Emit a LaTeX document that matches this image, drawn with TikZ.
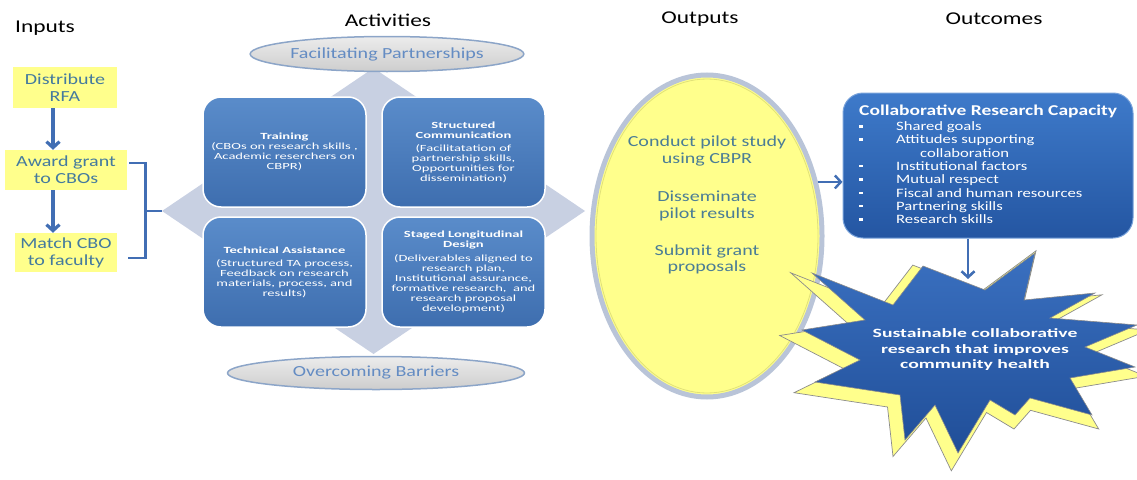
\documentclass[tikz,border=0pt]{standalone}
\usepackage{fontspec}
\setmainfont{Carlito}
\newfontfamily\fa{Carlito}[FakeStretch=1.3]
\newfontfamily\fb{Carlito}[FakeStretch=1.55]
\usetikzlibrary{shapes.geometric,arrows.meta}
\definecolor{yelfill}{RGB}{255,255,140}
\definecolor{inptext}{RGB}{68,122,158}
\definecolor{outtext}{RGB}{75,125,150}
\definecolor{arrowblue}{RGB}{65,110,180}
\definecolor{diafill}{RGB}{200,208,226}
\definecolor{boxtop}{RGB}{90,140,202}
\definecolor{boxbot}{RGB}{62,110,175}
\definecolor{eltop}{RGB}{236,236,236}
\definecolor{elbot}{RGB}{205,205,205}
\definecolor{elborder}{RGB}{140,165,200}
\definecolor{eltext}{RGB}{100,140,195}
\definecolor{outring}{RGB}{185,196,216}
\definecolor{outinner}{RGB}{225,225,120}
\definecolor{captop}{RGB}{62,122,202}
\definecolor{capbot}{RGB}{36,86,162}
\definecolor{startop}{RGB}{58,112,192}
\definecolor{starbot}{RGB}{32,78,152}
\definecolor{staredge}{RGB}{140,140,140}
\begin{document}
\begin{tikzpicture}[x=1pt,y=-1pt,
  title/.style={font=\fa\fontsize{18}{21}\selectfont, text=black, inner sep=0},
  inbox/.style={fill=yelfill, draw=none, font=\fa\fontsize{15.4}{17}\selectfont, text=inptext, align=center, inner sep=0},
  arr/.style={draw=arrowblue, line width=3.2, -{Straight Barb[length=6pt,width=13pt]}},
  brk/.style={draw=arrowblue, line width=2.6},
  abox/.style={rounded corners=18, draw=white, line width=1.5, top color=boxtop, bottom color=boxbot,
    minimum width=163, minimum height=110, text=white, font=\fb\fontsize{9.4}{10}\selectfont, align=center, inner sep=0},
  gel/.style={ellipse, draw=elborder, line width=1.5, top color=eltop, bottom color=elbot, text=eltext,
    font=\fa\fontsize{15.4}{17}\selectfont, inner sep=0},
  outtxt/.style={font=\fa\fontsize{15.4}{16.5}\selectfont, text=outtext, align=center, inner sep=0},
  cbox/.style={rounded corners=20, draw=captop!70!white, line width=1, top color=captop, bottom color=capbot,
    minimum width=290, minimum height=145, inner sep=0},
  ctxt/.style={font=\fa\fontsize{12.8}{13.3}\selectfont, text=white, align=left, inner sep=0},
  startxt/.style={font=\fb\bfseries\fontsize{12.7}{15.5}\selectfont, text=white, align=center, inner sep=0}
]
\useasboundingbox (0,0) rectangle (1137,479);

% titles
\node[title] (tin) at (45,28) {Inputs};
\node[title] (tact) at (388,20) {Activities};
\node[title] (tout) at (700,19) {Outputs};
\node[title] (toc) at (994,19) {Outcomes};

% inputs
\node[inbox, minimum width=104, minimum height=41] (dist) at (65,87.5) {Distribute\\RFA};
\node[inbox, minimum width=122, minimum height=40] (award) at (66,170) {Award grant\\to CBOs};
\node[inbox, minimum width=102, minimum height=39] (match) at (66,252.5) {Match CBO\\to faculty};
\coordinate (arrx) at (53,0);
\draw[arr] (dist.south -| arrx) -- (award.north -| arrx);
\draw[arr] (award.south -| arrx) -- (match.north -| arrx);

% activities background diamond
\coordinate (dW) at (162,211);
\coordinate (dN) at (373.5,68);
\coordinate (dE) at (585,211);
\coordinate (dS) at (373.5,354);
\fill[diafill] (dW) -- (dN) -- (dE) -- (dS) -- cycle;

% bracket
\coordinate (bmid) at (145,211);
\draw[brk] ([shift={(2,-7)}]award.east) -| ([shift={(28,5.5)}]match.east) -- ([shift={(11,5.5)}]match.east);
\draw[brk] (bmid) -- (dW);

% ellipses
\node[gel, minimum width=270, minimum height=35] (fac) at (387,54) {Facilitating Partnerships};
\node[gel, minimum width=297, minimum height=33] (ovc) at (376,373) {Overcoming Barriers};

% activity boxes
\node[abox] (train) at (284.5,152) {\textbf{Training}\\(CBOs on research skills ,\\Academic reserchers on\\CBPR)};
\node[abox] (comm) at (463.5,152) {\textbf{Structured}\\\textbf{Communication}\\[3pt](Facilitatation of\\partnership skills,\\Opportunities for\\dissemination)};
\node[abox] (tech) at (284.5,272) {\textbf{Technical Assistance}\\[3pt](Structured TA process,\\Feedback on research\\materials, process, and\\results)};
\node[abox] (staged) at (463.5,272) {\textbf{Staged Longitudinal}\\\textbf{Design}\\[4pt](Deliverables aligned to\\research plan,\\Institutional assurance,\\formative research,\ \ and\\research proposal\\development)};

% outputs
\node[ellipse, draw=outring, line width=5, fill=yelfill, minimum width=230, minimum height=322, inner sep=0] (out) at (707,236) {};
\node[ellipse, draw=outinner, line width=0.8, minimum width=222, minimum height=314, inner sep=0] (outin) at (out.center) {};
\node[outtxt] (outtext) at (707,205) {Conduct pilot study\\using CBPR\\[22pt]Disseminate\\pilot results\\[20.5pt]Submit grant\\proposals};

% outcomes box
\node[cbox] (cap) at (988,165.5) {};
\node[ctxt, anchor=north west] (captext) at (859,105) {{\fontsize{15}{16}\selectfont\textbf{Collaborative Research Capacity}}\\[1.5pt]
\makebox[37pt][l]{\rule[3pt]{3.5pt}{2.5pt}}Shared goals\\
\makebox[37pt][l]{\rule[3pt]{3.5pt}{2.5pt}}Attitudes supporting\\
\hspace*{61pt}collaboration\\
\makebox[37pt][l]{\rule[3pt]{3.5pt}{2.5pt}}Institutional factors\\
\makebox[37pt][l]{\rule[3pt]{3.5pt}{2.5pt}}Mutual respect\\
\makebox[37pt][l]{\rule[3pt]{3.5pt}{2.5pt}}Fiscal and human resources\\
\makebox[37pt][l]{\rule[3pt]{3.5pt}{2.5pt}}Partnering skills\\
\makebox[37pt][l]{\rule[3pt]{3.5pt}{2.5pt}}Research skills};
\draw[arr, line width=2.4] (out.26) -- (out.26 -| cap.west);

% star
\def\starpath{(812,273) -- (893,305) -- (923,266) -- (985,290) -- (1035,253) -- (1024,300) -- (1095,293) -- (1050,318) -- (1137,325) -- (1085,347) -- (1135,367) -- (1070,378) -- (1092,415) -- (1030,398) -- (1015,415) -- (990,400) -- (958,453) -- (935,405) -- (905,440) -- (900,395) -- (815,382) -- (860,360) -- (802,330) -- (865,320) -- cycle}
\begin{scope}[shift={(-6,8)}, scale around={1.1:(965,355)}]
  \filldraw[fill=yelfill, draw=staredge, line width=0.7] \starpath;
\end{scope}
\shade[top color=startop, bottom color=starbot] \starpath;
\draw[staredge, line width=0.6] \starpath;
\node[startxt] (startext) at (975,350) {Sustainable collaborative\\research that improves\\community health};
\coordinate (startip) at (968,279);
\draw[arr, line width=2.6] (cap.south -| startip) -- (startip);
\end{tikzpicture}
\end{document}
